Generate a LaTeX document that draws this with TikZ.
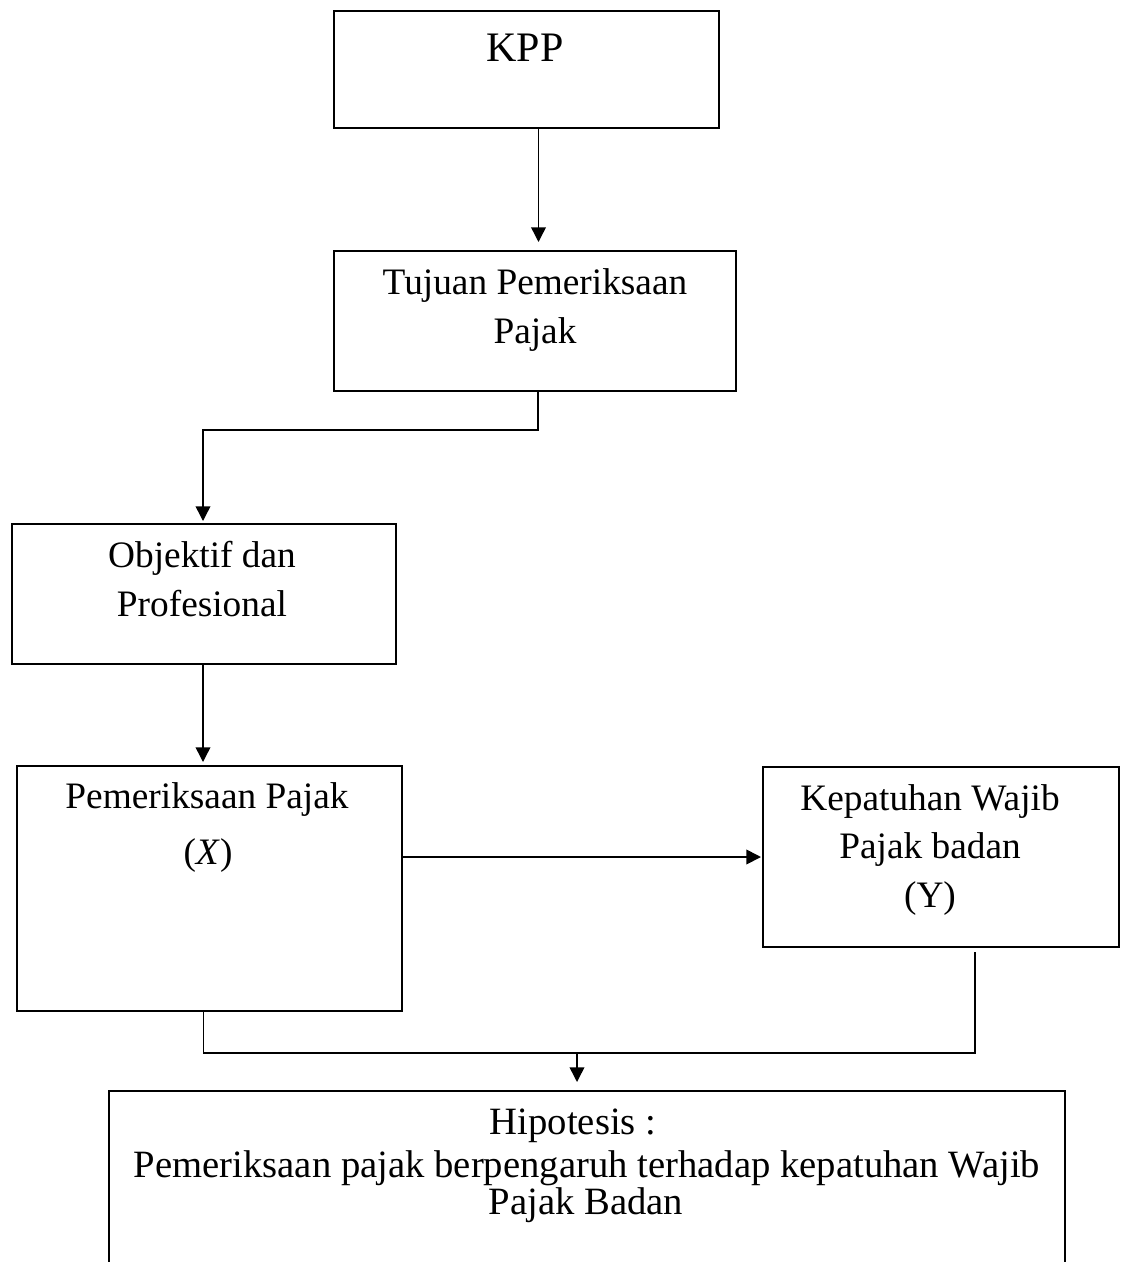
\documentclass[tikz,border=0pt]{standalone}
\usepackage{fontspec}
\setmainfont{Liberation Serif}
\usetikzlibrary{arrows.meta,calc}
\begin{document}
\begin{tikzpicture}[x=0.75pt,y=-0.75pt,
  box/.style={draw,line width=1.5pt,anchor=north west,inner sep=0pt},
  txt/.style={anchor=base,inner sep=0pt,font=\fontsize{28pt}{36pt}\selectfont},
  hiptxt/.style={txt,font=\fontsize{29pt}{36pt}\selectfont},
  conn/.style={line width=1.2pt},
  arr/.style={line width=1.1pt,-{Triangle[length=11pt,width=11pt]}}]
\useasboundingbox (0,0) rectangle (1125,1262);
% boxes
\node[box,minimum width=385*0.75pt,minimum height=117*0.75pt] (kpp) at (333,10) {};
\node[box,minimum width=402*0.75pt,minimum height=140*0.75pt] (tuj) at (333,250) {};
\node[box,minimum width=384*0.75pt,minimum height=140*0.75pt] (obj) at (11,523) {};
\node[box,minimum width=385*0.75pt,minimum height=245*0.75pt] (pem) at (16,765) {};
\node[box,minimum width=356*0.75pt,minimum height=180*0.75pt] (kep) at (762,766) {};
\node[box,minimum width=956*0.75pt,minimum height=190*0.75pt] (hip) at (108,1090) {};
% texts
\node[txt,font=\fontsize{31.5pt}{36pt}\selectfont] (kppt) at (525,62) {KPP};
\node[txt] (tujt1) at (535,295) {Tujuan Pemeriksaan};
\node[txt] (tujt2) at (535,343) {Pajak};
\node[txt] (objt1) at (202,567) {Objektif dan};
\node[txt] (objt2) at (202,616) {Profesional};
\node[txt] (pemt1) at (207,808) {Pemeriksaan Pajak};
\node[txt] (pemt2) at (208,864) {(\textit{X})};
\node[txt] (kept1) at (930,810) {Kepatuhan Wajib};
\node[txt] (kept2) at (930,858) {Pajak badan};
\node[txt] (kept3) at (930,907) {(Y)};
\node[hiptxt] (hipt1) at (573,1134) {Hipotesis :};
\node[hiptxt] (hipt2) at (587,1177) {Pemeriksaan pajak berpengaruh terhadap kepatuhan Wajib};
\node[hiptxt] (hipt3) at (586,1214) {Pajak Badan};
% connectors
\coordinate (k1) at ($(kpp.south)+(12,0)$);
\draw[arr,shorten >=8*0.75pt] (k1) -- (k1 |- tuj.north);
\coordinate (t1) at ($(tuj.south)+(3,0)$);
\coordinate (t2) at ($(t1)+(0,38)$);
\coordinate (o1) at ($(obj.north)+(-1,0)$);
\draw[arr,shorten >=2*0.75pt] (t1) -- (t2) -| (o1);
\coordinate (o2) at ($(obj.south)+(-1,0)$);
\draw[arr,shorten >=3*0.75pt] (o2) -- (o2 |- pem.north);
\draw[arr,line width=1.3pt,shorten >=1*0.75pt] (pem.east |- kep.west) -- (kep.west);
\coordinate (p1) at ($(pem.south)+(-6,0)$);
\coordinate (join) at (577,1053);
\coordinate (y1) at (975,952);
\draw[conn] (p1) -- (p1 |- join) -- (join -| y1) -- (y1);
\draw[arr,shorten >=8*0.75pt] (join) -- (join |- hip.north);
\end{tikzpicture}
\end{document}
